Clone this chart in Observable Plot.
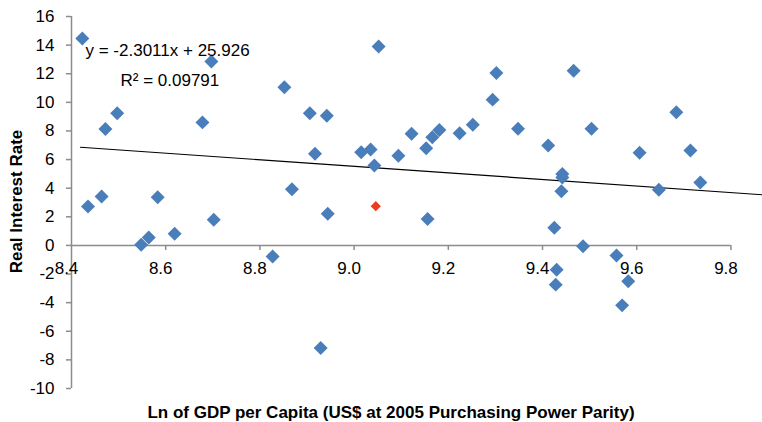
<!DOCTYPE html>
<html>
<head>
<meta charset="utf-8">
<script src="https://cdn.jsdelivr.net/npm/d3@7"></script>
<script src="https://cdn.jsdelivr.net/npm/@observablehq/plot@0.6"></script>
<style>
  html, body { margin: 0; padding: 0; background: #fff; }
  #chart svg { display: block; }
</style>
</head>
<body>
<div id="chart"></div>
<script>
// Ln of GDP per capita (x) and real interest rate (y)
const gdpLn = [8.423, 8.435, 8.464, 8.472, 8.497, 8.548, 8.564, 8.583, 8.619, 8.678,
  8.697, 8.702, 8.827, 8.852, 8.868, 8.906, 8.917, 8.929, 8.942, 8.944,
  9.015, 9.035, 9.043, 9.052, 9.094, 9.122, 9.153, 9.156, 9.166, 9.181,
  9.224, 9.252, 9.294, 9.302, 9.348, 9.412, 9.425, 9.428, 9.430, 9.442,
  9.442, 9.440, 9.466, 9.486, 9.504, 9.557, 9.569, 9.582, 9.606, 9.647,
  9.684, 9.714, 9.735];
const realRate = [14.47, 2.72, 3.42, 8.14, 9.23, 0.05, 0.56, 3.37, 0.82, 8.6,
  12.86, 1.79, -0.77, 11.05, 3.93, 9.23, 6.4, -7.17, 9.07, 2.21,
  6.51, 6.7, 5.58, 13.9, 6.26, 7.8, 6.79, 1.84, 7.56, 8.07,
  7.84, 8.44, 10.19, 12.05, 8.16, 6.98, 1.24, -2.74, -1.7, 5.0,
  4.75, 3.79, 12.21, -0.05, 8.16, -0.7, -4.19, -2.51, 6.47, 3.89,
  9.3, 6.63, 4.4];
// highlighted point
const highlightX = [9.046];
const highlightY = [2.74];
// trend line endpoints as drawn
const trendX = [8.419, 9.867];
const trendY = [6.86, 3.54];
// ticks
const xTicks = [8.4, 8.6, 8.8, 9.0, 9.2, 9.4, 9.6, 9.8];
const yTicks = [-10, -8, -6, -4, -2, 0, 2, 4, 6, 8, 10, 12, 14, 16];
const equationText = "y = -2.3011x + 25.926";
const r2Text = "R\u00B2 = 0.09791";
const xTitle = "Ln of GDP per Capita (US$ at 2005 Purchasing Power Parity)";
const yTitle = "Real Interest Rate";

const points = gdpLn.map((x, i) => ({x, y: realRate[i]}));
const highlight = highlightX.map((x, i) => ({x, y: highlightY[i]}));
const trend = trendX.map((x, i) => ({x, y: trendY[i]}));

const axisGray = "#8c8c8c";
const font = "'Liberation Sans', Arial, Helvetica, sans-serif";

const chart = Plot.plot({
  width: 762,
  height: 422,
  marginLeft: 71,
  marginRight: 0,
  marginTop: 16,
  marginBottom: 34,
  style: {fontFamily: font, fontSize: "17px", color: "#000", background: "#fff"},
  x: {domain: [8.4, 9.867], axis: null},
  y: {domain: [-10, 16], axis: null},
  marks: [
    // y axis line and ticks
    Plot.ruleX([8.4], {y1: -10, y2: 16, stroke: axisGray, strokeWidth: 1.5}),
    Plot.axisY(yTicks, {anchor: "left", tickSize: 5, tickPadding: 12, stroke: axisGray, strokeWidth: 1.5, fill: "#000", fontSize: 17, label: null, tickFormat: d => d < 0 ? "-" + Math.abs(d) : String(d)}),
    // x axis at y = 0
    Plot.ruleY([0], {x1: 8.4, x2: 9.8, stroke: axisGray, strokeWidth: 1.5}),
    Plot.ruleX(xTicks.slice(1), {x: d => d, y1: 0, y2: 0, insetBottom: -5, stroke: axisGray, strokeWidth: 1.5}),
    Plot.text(xTicks, {x: d => d, y: 0, dy: 23, dx: -5, text: d => d.toFixed(1), fill: "#000", fontSize: 17}),
    // trend line
    Plot.line(trend, {x: "x", y: "y", stroke: "#000", strokeWidth: 1.2}),
    // points
    Plot.dot(points, {x: "x", y: "y", symbol: "diamond2", r: 6.3, fill: "#4a7ebb", stroke: "none"}),
    Plot.dot(highlight, {x: "x", y: "y", symbol: "diamond2", r: 4.6, fill: "#ee3b1f", stroke: "none"}),
    // regression annotation
    Plot.text([equationText], {frameAnchor: "top-left", dx: 14, dy: 34, textAnchor: "start", lineAnchor: "middle", fill: "#000", fontSize: 17}),
    Plot.text([r2Text], {frameAnchor: "top-left", dx: 49, dy: 64, textAnchor: "start", lineAnchor: "middle", fill: "#000", fontSize: 17}),
    // axis titles
    Plot.text([xTitle], {frameAnchor: "bottom", dx: -26, dy: 24, textAnchor: "middle", lineAnchor: "middle", fontWeight: "bold", fill: "#000", fontSize: 17}),
    Plot.text([yTitle], {frameAnchor: "left", dx: -55, dy: -1, rotate: -90, textAnchor: "middle", lineAnchor: "middle", fontWeight: "bold", fill: "#000", fontSize: 17})
  ]
});
document.getElementById("chart").appendChild(chart);
</script>
</body>
</html>
